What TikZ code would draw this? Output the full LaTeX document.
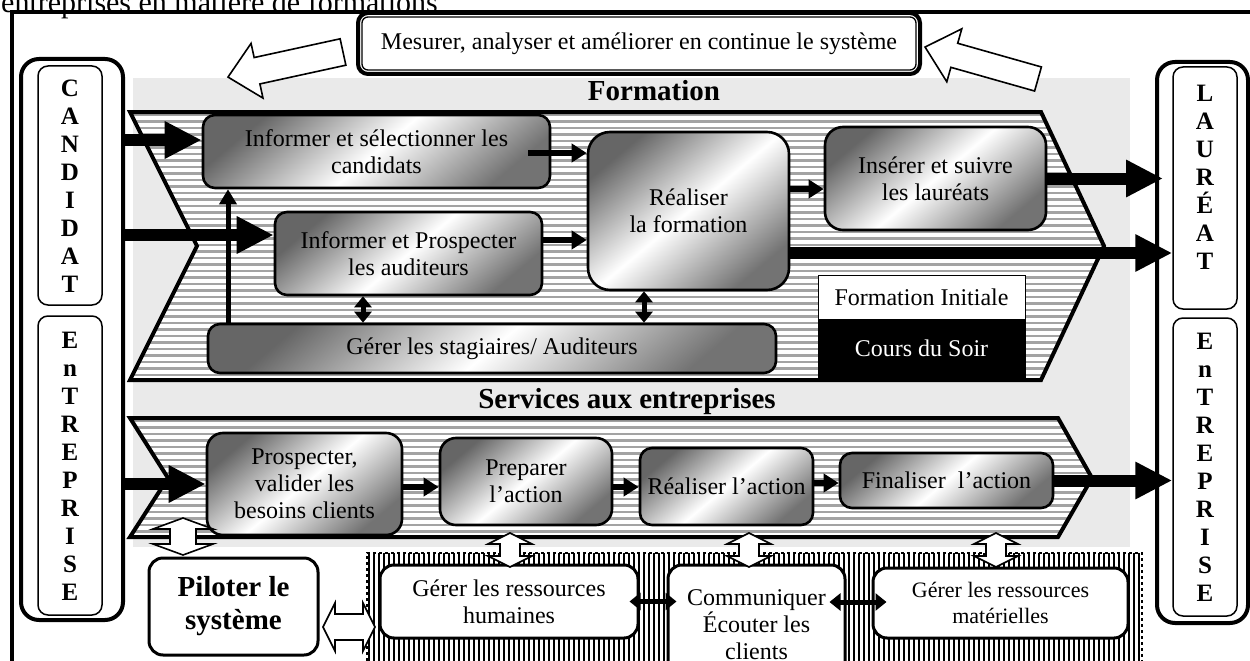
\documentclass[tikz,border=0pt]{standalone}
\usepackage{fontspec}
\setmainfont{Liberation Serif}
\usetikzlibrary{arrows.meta,calc}
\definecolor{panelgray}{HTML}{EAEAEA}
\newcommand\hvdarrow[6]{% cx, ytop, ybot, shaft half, head half, head length
  \draw[hollowar] (#1,#2) -- ({#1+#5},{#2+#6}) -- ({#1+#4},{#2+#6}) -- ({#1+#4},{#3-#6}) -- ({#1+#5},{#3-#6}) -- (#1,#3) -- ({#1-#5},{#3-#6}) -- ({#1-#4},{#3-#6}) -- ({#1-#4},{#2+#6}) -- ({#1-#5},{#2+#6}) -- cycle;}
\newcommand\hhdarrow[6]{% cy, xleft, xright, shaft half, head half, head length
  \draw[hollowar] (#2,#1) -- ({#2+#6},{#1-#5}) -- ({#2+#6},{#1-#4}) -- ({#3-#6},{#1-#4}) -- ({#3-#6},{#1-#5}) -- (#3,#1) -- ({#3-#6},{#1+#5}) -- ({#3-#6},{#1+#4}) -- ({#2+#6},{#1+#4}) -- ({#2+#6},{#1+#5}) -- cycle;}
\begin{document}
\begin{tikzpicture}[x=1pt,y=-1pt,
  every node/.style={font=\fontsize{24}{27}\selectfont, inner sep=0pt},
  procbox/.style={draw, line width=2.6pt, rounded corners=12pt, top color=black!60, bottom color=black!55, middle color=white, shading angle=40, align=center},
  whitebox/.style={draw, line width=3pt, rounded corners=14pt, fill=white, align=center},
  bigarr/.style={line width=12pt, -{Triangle[length=37pt,width=35pt]}},
  medarr/.style={line width=5.5pt, -{Triangle[length=15pt,width=18pt]}},
  dblarr/.style={line width=5pt, {Triangle[length=11pt,width=17pt]}-{Triangle[length=11pt,width=17pt]}},
  hollowar/.style={draw, line width=1.6pt, fill=white, line join=miter},
  stripeh/.style={line width=2.4pt, black!36},
  stripev/.style={line width=2.4pt, black},
  chev/.style={line width=4pt, line join=miter},
  hdr/.style={font=\fontsize{29}{32}\selectfont\bfseries},
  colletters/.style={font=\fontsize{25}{28}\selectfont\bfseries, align=center},
  colouter/.style={draw, line width=4pt, rounded corners=18pt, fill=white},
  colinner/.style={draw, line width=1.5pt, rounded corners=10pt},
]
\useasboundingbox (0,0) rectangle (1250,661);
\fill[white] (0,0) rectangle (1250,661);

% title and frame
\node[anchor=base west, font=\fontsize{30}{34}\selectfont] (ttl) at (1,13) {entreprises en matière de formations};
\draw[line width=3.5pt] (12,700) -- (12,12) -- (1262,12);

% gray panel
\fill[panelgray] (133,78) rectangle (1130,547);

% Formation chevron
\begin{scope}
\clip (130,112) -- (1041,112) -- (1104,246) -- (1041,380) -- (130,380) -- (197,246) -- cycle;
\fill[white] (120,100) rectangle (1110,390);
\foreach \yy in {115,121.5,...,380} \draw[stripeh] (120,\yy) -- (1110,\yy);
\end{scope}
\draw[chev] (130,112) -- (1041,112) -- (1104,246) -- (1041,380) -- (130,380) -- (197,246) -- cycle;

% Services chevron
\begin{scope}
\clip (130,418) -- (1058,418) -- (1092,478) -- (1058,537) -- (130,537) -- (168,478) -- cycle;
\fill[white] (120,410) rectangle (1100,540);
\foreach \yy in {421,427.5,...,537} \draw[stripeh] (120,\yy) -- (1100,\yy);
\end{scope}
\draw[chev] (130,418) -- (1058,418) -- (1092,478) -- (1058,537) -- (130,537) -- (168,478) -- cycle;

% bottom striped region
\begin{scope}
\clip (367,553) rectangle (1142,661);
\fill[white] (367,553) rectangle (1142,661);
\foreach \xx in {369,374,...,1142} \draw[stripev] (\xx,553) -- (\xx,661);
\end{scope}
\draw[dashed, line width=1.5pt] (367,661) -- (367,553) -- (1142,553) -- (1142,661);

% headers
\node[hdr] (fhdr) at (654,91) {Formation};
\node[hdr] (shdr) at (627,402) {Services aux entreprises};

% Formation boxes
\node[procbox, minimum width=347pt, minimum height=73pt] (inf) at (376.5,151.5) {Informer et sélectionner les\\candidats};
\node[procbox, minimum width=267pt, minimum height=83pt] (pros) at (408.5,253.5) {Informer et Prospecter\\les auditeurs};
\node[procbox, minimum width=201pt, minimum height=158pt, rounded corners=22pt] (real) at (688.5,211) {Réaliser\\la formation};
\node[procbox, minimum width=221pt, minimum height=103pt, rounded corners=18pt] (ins) at (935.5,178.5) {Insérer et suivre\\les lauréats};
\node[procbox, minimum width=568pt, minimum height=49pt] (ger) at (492,348.5) {Gérer les stagiaires/ Auditeurs};
\node[draw, line width=1pt, fill=white, minimum width=207pt, minimum height=44pt] (leg1) at (921.5,297) {Formation Initiale};
\node[draw, line width=1pt, fill=black, text=white, minimum width=207pt, minimum height=58pt] (leg2) at (921.5,348) {Cours du Soir};

% Services boxes
\node[procbox, minimum width=195pt, minimum height=102pt, rounded corners=16pt] (psp) at (304.5,484) {Prospecter,\\valider les\\besoins clients};
\node[procbox, minimum width=172pt, minimum height=87pt, rounded corners=16pt] (prep) at (526,481.5) {Preparer\\l’action};
\node[procbox, minimum width=173pt, minimum height=77pt] (ract) at (726.5,486.5) {Réaliser l’action};
\node[procbox, minimum width=213pt, minimum height=55pt] (fin) at (946.5,480.5) {Finaliser\ \ l’action};

% bottom boxes
\node[whitebox, font=\fontsize{29}{33}\selectfont\bfseries, minimum width=169pt, minimum height=97pt] (pil) at (233.5,606.5) {Piloter le\\système};
\node[whitebox, minimum width=258pt, minimum height=73pt] (rh) at (509,601.5) {Gérer les ressources\\humaines};
\node[whitebox, minimum width=177pt, minimum height=125pt] (com) at (756.5,627.5) {};
\node[align=center] (comt) at (756.5,625) {Communiquer\\Écouter les\\clients};
\node[whitebox, font=\fontsize{22}{26}\selectfont, minimum width=255pt, minimum height=70pt] (mat) at (1000.5,603) {Gérer les ressources\\matérielles};

% columns
\node[colouter, minimum width=102pt, minimum height=561pt] (lcol) at (72,339.5) {};
\node[colinner, minimum width=64pt, minimum height=239pt] (cand) at (70,185.5) {};
\node[colinner, minimum width=64pt, minimum height=299pt] (lent) at (70,465.5) {};
\node[colletters] (candt) at (70,186) {C\\A\\N\\D\\I\\D\\A\\T};
\node[colletters] (lentt) at (70,466) {E\\n\\T\\R\\E\\P\\R\\I\\S\\E};
\node[colouter, minimum width=91pt, minimum height=561pt] (rcol) at (1202.5,342.5) {};
\node[colinner, minimum width=64pt, minimum height=242pt] (laur) at (1205,188) {};
\node[colinner, minimum width=64pt, minimum height=298pt] (rent) at (1205,467) {};
\node[colletters] (laurt) at (1205,177) {L\\A\\U\\R\\É\\A\\T};
\node[colletters] (rentt) at (1205,467) {E\\n\\T\\R\\E\\P\\R\\I\\S\\E};

% top box
\node[draw, line width=4pt, rounded corners=10pt, fill=white, minimum width=562pt, minimum height=61pt] (msr) at (639,43.5) {Mesurer, analyser et améliorer en continue le système};
\draw[line width=1.3pt, rounded corners=6pt] ([shift={(6,6)}]msr.north west) rectangle ([shift={(-6,-6)}]msr.south east);

% hollow arrows at the top
\begin{scope}[shift={(343,52)},rotate=192.3]
\draw[hollowar] (0,-13.5) -- (88,-13.5) -- (88,-28) -- (117.7,0) -- (88,28) -- (88,13.5) -- (0,13.5) -- cycle;
\end{scope}
\begin{scope}[shift={(1038,79)},rotate=164.2]
\draw[hollowar] (0,-12.5) -- (87,-12.5) -- (87,-27.5) -- (117.4,0) -- (87,27.5) -- (87,12.5) -- (0,12.5) -- cycle;
\end{scope}

% entry arrows
\coordinate (e1) at ([yshift=11.5pt]inf.west);
\draw[bigarr] (e1 -| lcol.east) -- (e1);
\coordinate (e2) at ([yshift=18.5pt]pros.west);
\draw[bigarr] (e2 -| lcol.east) -- (e2);
\draw[bigarr] (psp.west -| lcol.east) -- (psp.west);

% exit arrows
\draw[bigarr, shorten >=-8pt] (ins.east) -- (ins.east -| rcol.west);
\coordinate (x2) at ([yshift=-42pt]real.east);
\draw[bigarr] (x2) -- (x2 -| laur.west);
\draw[bigarr] (fin.east) -- (fin.east -| rent.west);

% internal arrows
\coordinate (m1) at ([yshift=-1.5pt]inf.east);
\draw[medarr, shorten <=-23pt] (m1) -- (m1 -| real.west);
\coordinate (m2) at ([yshift=13.5pt]pros.east);
\draw[medarr] (m2) -- (m2 -| real.west);
\coordinate (m3) at ([yshift=22pt]real.east);
\draw[medarr] (m3) -- (m3 -| ins.west);
\coordinate (s1) at ([yshift=-3pt]psp.east);
\draw[medarr] (s1) -- (s1 -| prep.west);
\coordinate (s2) at ([yshift=-5.5pt]prep.east);
\draw[medarr] (s2) -- (s2 -| ract.west);
\coordinate (s3) at ([yshift=3.5pt]ract.east);
\draw[medarr] (s3) -- (s3 -| fin.west);

\coordinate (vx) at (228,0);
\draw[line width=5pt, -{Triangle[length=15pt,width=17pt]}] (ger.north -| vx) -- (inf.south -| vx);
\coordinate (dx1) at (363,0);
\draw[dblarr] (pros.south -| dx1) -- (ger.north -| dx1);
\coordinate (dx2) at (644,0);
\draw[dblarr] (real.south -| dx2) -- (ger.north -| dx2);

\draw[dblarr, shorten <=-10pt, shorten >=-10pt] (rh.east) -- (rh.east -| com.west);
\coordinate (b2) at (0,602);
\draw[dblarr, shorten <=-17pt, shorten >=-15pt] (com.east |- b2) -- (mat.west |- b2);

% hollow double arrows
\hvdarrow{183}{518}{555}{13}{30}{11}
\hvdarrow{510}{533}{567}{10}{22}{11}
\hvdarrow{749}{533}{567}{10}{22}{11}
\hvdarrow{996}{533}{567}{10}{22}{11}
\hhdarrow{627}{323}{375}{13}{24}{12}
\end{tikzpicture}
\end{document}
